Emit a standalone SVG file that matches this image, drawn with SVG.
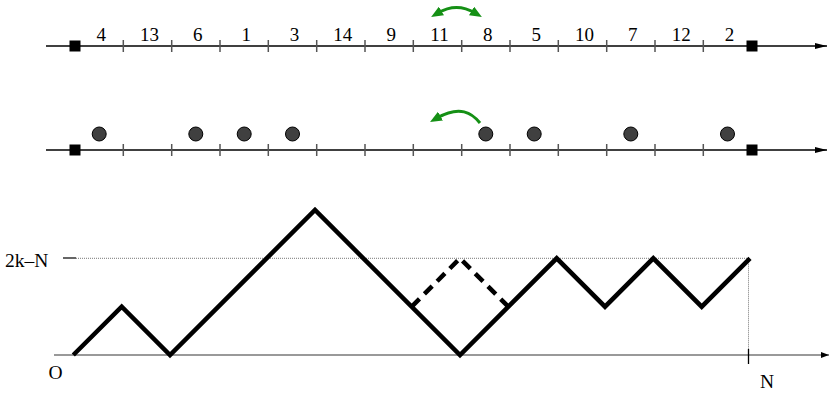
<svg xmlns="http://www.w3.org/2000/svg" width="829" height="395" viewBox="0 0 829 395">
<defs>
<style>
.ax{stroke:#000;stroke-width:1.3;fill:none}
.tk{stroke:#555;stroke-width:1.5}
.sq{fill:#000}
.lb{font-family:"Liberation Serif","Times New Roman",serif;font-size:19px;fill:#000;text-anchor:middle}
.lb2{font-family:"Liberation Serif","Times New Roman",serif;font-size:19.5px;fill:#000}
.dot{fill:#404040;stroke:#000;stroke-width:1}
.gr{stroke:#159015;stroke-width:3;fill:none}
.walk{stroke:#000;stroke-width:4.5;fill:none;stroke-linejoin:miter}
</style>
<marker id="ah" viewBox="0 0 12 6" refX="12" refY="3" markerWidth="12" markerHeight="6" orient="auto" markerUnits="userSpaceOnUse">
<path d="M0,0 L12,3 L0,6 z" fill="#000"/>
</marker>
<marker id="ah2" viewBox="0 0 8 6" refX="8" refY="3" markerWidth="8" markerHeight="6" orient="auto" markerUnits="userSpaceOnUse">
<path d="M0,0 L8,3 L0,6 z" fill="#000"/>
</marker>
<marker id="ga" viewBox="0 0 12 10" refX="4" refY="5" markerWidth="12" markerHeight="10" orient="auto-start-reverse" markerUnits="userSpaceOnUse">
<path d="M0,0 L12,5 L0,10 z" fill="#159015"/>
</marker>
</defs>

<g id="row1">
<line class="ax" x1="46" y1="46" x2="827" y2="46" marker-end="url(#ah)"/>
<g class="tk">
<line x1="123.3" y1="40" x2="123.3" y2="52"/><line x1="171.7" y1="40" x2="171.7" y2="52"/><line x1="220" y1="40" x2="220" y2="52"/><line x1="268.3" y1="40" x2="268.3" y2="52"/><line x1="316.7" y1="40" x2="316.7" y2="52"/><line x1="365" y1="40" x2="365" y2="52"/><line x1="413.3" y1="40" x2="413.3" y2="52"/><line x1="461.7" y1="40" x2="461.7" y2="52"/><line x1="510" y1="40" x2="510" y2="52"/><line x1="558.3" y1="40" x2="558.3" y2="52"/><line x1="606.7" y1="40" x2="606.7" y2="52"/><line x1="655" y1="40" x2="655" y2="52"/><line x1="703.3" y1="40" x2="703.3" y2="52"/>
</g>
<rect class="sq" x="69.5" y="40.5" width="11" height="11"/>
<rect class="sq" x="746.5" y="40.5" width="11" height="11"/>
<g class="lb">
<text x="101.2" y="40.5">4</text><text x="149.5" y="40.5">13</text><text x="197.8" y="40.5">6</text><text x="246.2" y="40.5">1</text><text x="294.5" y="40.5">3</text><text x="342.8" y="40.5">14</text><text x="391.2" y="40.5">9</text><text x="439.5" y="40.5">11</text><text x="487.8" y="40.5">8</text><text x="536.2" y="40.5">5</text><text x="584.5" y="40.5">10</text><text x="632.8" y="40.5">7</text><text x="681.2" y="40.5">12</text><text x="729.5" y="40.5">2</text>
</g>
<path id="swap" class="gr" d="M438,13 Q456.5,2 475,13" marker-start="url(#ga)" marker-end="url(#ga)"/>
</g>

<g id="row2">
<line class="ax" x1="46" y1="150" x2="827" y2="150" marker-end="url(#ah)"/>
<g class="tk">
<line x1="123.3" y1="144" x2="123.3" y2="156"/><line x1="171.7" y1="144" x2="171.7" y2="156"/><line x1="220" y1="144" x2="220" y2="156"/><line x1="268.3" y1="144" x2="268.3" y2="156"/><line x1="316.7" y1="144" x2="316.7" y2="156"/><line x1="365" y1="144" x2="365" y2="156"/><line x1="413.3" y1="144" x2="413.3" y2="156"/><line x1="461.7" y1="144" x2="461.7" y2="156"/><line x1="510" y1="144" x2="510" y2="156"/><line x1="558.3" y1="144" x2="558.3" y2="156"/><line x1="606.7" y1="144" x2="606.7" y2="156"/><line x1="655" y1="144" x2="655" y2="156"/><line x1="703.3" y1="144" x2="703.3" y2="156"/>
</g>
<rect class="sq" x="69.5" y="144.5" width="11" height="11"/>
<rect class="sq" x="746.5" y="144.5" width="11" height="11"/>
<g>
<circle class="dot" cx="99.2" cy="134" r="7"/><circle class="dot" cx="195.8" cy="134" r="7"/><circle class="dot" cx="244.2" cy="134" r="7"/><circle class="dot" cx="292.5" cy="134" r="7"/><circle class="dot" cx="485.8" cy="134" r="7"/><circle class="dot" cx="534.2" cy="134" r="7"/><circle class="dot" cx="630.8" cy="134" r="7"/><circle class="dot" cx="727.5" cy="134" r="7"/>
</g>
<path id="jump" class="gr" d="M480,123 C472,113 460,105 437,118" marker-end="url(#ga)"/>
</g>

<g id="graph">
<line x1="54" y1="355" x2="829" y2="355" stroke="#777" stroke-width="1.5" marker-end="url(#ah2)"/>
<line x1="748.5" y1="349" x2="748.5" y2="364" stroke="#000" stroke-width="1.3"/>
<line x1="63" y1="258" x2="76" y2="258" stroke="#000" stroke-width="1.2"/>
<line x1="76" y1="258.3" x2="750" y2="258.3" stroke="#555" stroke-width="0.8" stroke-dasharray="1 1"/>
<line x1="748.5" y1="258.3" x2="748.5" y2="349" stroke="#555" stroke-width="0.8" stroke-dasharray="1 1"/>
<path class="walk" d="M73.3,355 L121.7,306.7 L170,355 L315,210 L460,355 L556.7,258.3 L605,306.7 L653.3,258.3 L701.7,306.7 L750,258.3"/>
<path class="walk" d="M411.7,306.7 L460,258.3 L508.3,306.7" stroke-dasharray="11 7"/>
<text class="lb2" x="5" y="267">2k–N</text>
<text class="lb2" x="48.5" y="379">O</text>
<text class="lb2" x="760" y="388">N</text>
</g>
</svg>
